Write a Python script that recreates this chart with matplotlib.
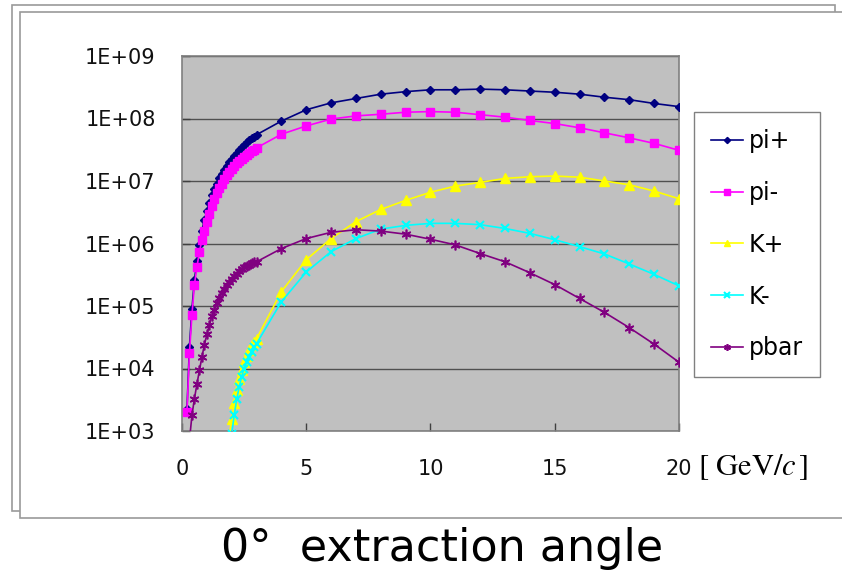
import math
import matplotlib
matplotlib.use("Agg")
import matplotlib.pyplot as plt
from matplotlib.patches import Rectangle
from matplotlib.ticker import FixedLocator, FuncFormatter

# ---------------- data ----------------
p_coarse = [4, 5, 6, 7, 8, 9, 10, 11, 12, 13, 14, 15, 16, 17, 18, 19, 20]

p_pi = [0.2, 0.3, 0.4, 0.5, 0.6, 0.7, 0.8, 0.9, 1.0, 1.1, 1.2, 1.3, 1.4, 1.5,
        1.6, 1.7, 1.8, 1.9, 2.0, 2.1, 2.2, 2.3, 2.4, 2.5, 2.6, 2.7, 2.8, 2.9, 3.0]
pip_fine = [2.24e3, 2.24e4, 8.9e4, 2.6e5, 5.2e5, 9.3e5, 1.6e6, 2.4e6, 3.3e6, 4.5e6,
            5.9e6, 7.4e6, 9.1e6, 1.1e7, 1.29e7, 1.51e7, 1.74e7, 2.0e7, 2.24e7, 2.51e7,
            2.82e7, 3.09e7, 3.47e7, 3.8e7, 4.17e7, 4.47e7, 4.79e7, 5.13e7, 5.5e7]
pip_coarse = [9.1e7, 1.38e8, 1.78e8, 2.09e8, 2.45e8, 2.69e8, 2.88e8, 2.88e8, 2.95e8,
              2.88e8, 2.75e8, 2.63e8, 2.45e8, 2.19e8, 2.0e8, 1.74e8, 1.55e8]
pim_fine = [2.0e3, 1.78e4, 7.2e4, 2.19e5, 4.17e5, 7.4e5, 1.12e6, 1.58e6, 2.24e6, 3.0e6,
            4.0e6, 5.1e6, 6.5e6, 7.8e6, 9.1e6, 1.07e7, 1.23e7, 1.38e7, 1.55e7, 1.74e7,
            1.91e7, 2.09e7, 2.29e7, 2.45e7, 2.63e7, 2.82e7, 3.02e7, 3.16e7, 3.39e7]
pim_coarse = [5.6e7, 7.6e7, 9.8e7, 1.10e8, 1.17e8, 1.26e8, 1.29e8, 1.26e8, 1.15e8,
              1.05e8, 9.3e7, 8.3e7, 7.1e7, 5.9e7, 4.9e7, 4.0e7, 3.1e7]

p_kp = [1.9, 2.0, 2.1, 2.2, 2.3, 2.4, 2.5, 2.6, 2.7, 2.8, 2.9, 3.0]
kp_fine = [7.9e2, 1.58e3, 2.8e3, 4.5e3, 6.8e3, 9.5e3, 1.26e4, 1.58e4, 1.95e4, 2.34e4,
           2.69e4, 3.0e4]
kp_coarse = [1.7e5, 5.5e5, 1.2e6, 2.24e6, 3.5e6, 4.9e6, 6.6e6, 8.3e6, 9.5e6, 1.1e7,
             1.17e7, 1.2e7, 1.15e7, 1.0e7, 8.7e6, 6.9e6, 5.2e6]

p_km = [2.0, 2.1, 2.2, 2.3, 2.4, 2.5, 2.6, 2.7, 2.8, 2.9, 3.0]
km_fine = [8.9e2, 1.78e3, 3.2e3, 5.0e3, 7.4e3, 1.0e4, 1.26e4, 1.55e4, 1.86e4, 2.19e4,
           2.5e4]
km_coarse = [1.17e5, 3.5e5, 7.4e5, 1.2e6, 1.7e6, 1.95e6, 2.1e6, 2.1e6, 2.0e6, 1.74e6,
             1.45e6, 1.15e6, 8.9e5, 6.8e5, 4.7e5, 3.2e5, 2.1e5]

p_pbar = [0.3, 0.4, 0.5, 0.6, 0.7, 0.8, 0.9, 1.0, 1.1, 1.2, 1.3, 1.4, 1.5, 1.6,
          1.7, 1.8, 1.9, 2.0, 2.1, 2.2, 2.3, 2.4, 2.5, 2.6, 2.7, 2.8, 2.9, 3.0]
pbar_fine = [7.1e2, 1.78e3, 3.3e3, 5.6e3, 9.3e3, 1.51e4, 2.4e4, 3.5e4, 5.0e4, 6.8e4,
             8.7e4, 1.1e5, 1.35e5, 1.62e5, 1.86e5, 2.14e5, 2.4e5, 2.7e5, 3.0e5, 3.3e5,
             3.6e5, 3.9e5, 4.2e5, 4.4e5, 4.6e5, 4.8e5, 5.0e5, 5.1e5]
pbar_coarse = [8.3e5, 1.2e6, 1.51e6, 1.66e6, 1.58e6, 1.41e6, 1.17e6, 9.5e5, 6.9e5,
               5.1e5, 3.4e5, 2.2e5, 1.32e5, 7.9e4, 4.5e4, 2.45e4, 1.26e4]

labels = ["pi+", "pi-", "K+", "K-", "pbar"]
x_ticks = [0, 5, 10, 15, 20]
y_ticks = [1e3, 1e4, 1e5, 1e6, 1e7, 1e8, 1e9]
title_text = "0°  extraction angle"
unit_text = r"$[\ \mathrm{GeV}/c\,]$"

# ---------------- figure ----------------
W, H = 842, 576
fig = plt.figure(figsize=(W / 100, H / 100), dpi=100)
fig.patch.set_facecolor("white")


def px_rect(x0, y0, x1, y1, **kw):
    r = Rectangle((x0 / W, 1 - y1 / H), (x1 - x0) / W, (y1 - y0) / H,
                  transform=fig.transFigure, **kw)
    fig.patches.append(r)


px_rect(12, 5, 835, 511, facecolor="white", edgecolor="#9a9a9a", linewidth=1.2, zorder=0)
px_rect(20, 12, 845, 518, facecolor="white", edgecolor="#9a9a9a", linewidth=1.2, zorder=1)

ax = fig.add_axes([182 / W, 1 - 431 / H, (679 - 182) / W, (431 - 56) / H])
ax.set_facecolor("#c0c0c0")
ax.set_zorder(2)

series = [
    (p_pi + p_coarse, pip_fine + pip_coarse, "#000080", "D", 4.5, 1.0),
    (p_pi + p_coarse, pim_fine + pim_coarse, "#ff00ff", "s", 6.0, 1.0),
    (p_kp + p_coarse, kp_fine + kp_coarse, "#ffff00", "^", 6.5, 1.0),
    (p_km + p_coarse, km_fine + km_coarse, "#00ffff", "x", 6.0, 1.5),
    (p_pbar + p_coarse, pbar_fine + pbar_coarse, "#800080", (6, 2, 0), 7.0, 1.2),
]
for (xs, ys, c, m, ms, mew), lab in zip(series, labels):
    ax.plot(xs, ys, color=c, marker=m, markersize=ms, markeredgewidth=mew,
            markeredgecolor=c, markerfacecolor=c, linewidth=1.2, label=lab, zorder=3)

ax.set_yscale("log")
ax.set_xlim(0, 20)
ax.set_ylim(1e3, 1e9)
ax.yaxis.set_major_locator(FixedLocator(y_ticks))
ax.yaxis.set_minor_locator(FixedLocator([]))
ax.yaxis.set_major_formatter(FuncFormatter(lambda v, pos: "1E+%02d" % round(math.log10(v))))
ax.xaxis.set_major_locator(FixedLocator(x_ticks))
ax.grid(axis="y", color="#505050", linewidth=1.0, zorder=1)
ax.set_axisbelow(True)
for s in ax.spines.values():
    s.set_color("#808080")
    s.set_linewidth(1.2)
ax.tick_params(axis="both", direction="in", length=6, width=1, color="#404040",
               labelsize=15, labelcolor="#111111")
ax.tick_params(axis="y", pad=19)
ax.tick_params(axis="x", pad=20)

leg = ax.legend(loc="upper left", bbox_to_anchor=(694 / W, 1 - 112 / H),
                bbox_transform=fig.transFigure, fontsize=17, frameon=True,
                fancybox=False, edgecolor="#808080", framealpha=1,
                handlelength=1.35, handletextpad=0.25, labelspacing=1.18,
                borderpad=0.72, borderaxespad=0, markerscale=0.7)
leg.get_frame().set_linewidth(1.0)
leg.set_clip_on(False)

fig.text(698 / W, 1 - 467 / H, unit_text, fontsize=22, ha="left", va="center",
         math_fontfamily="stix")
fig.text(442 / W, 1 - 548 / H, title_text, fontsize=32, ha="center", va="center")

fig.savefig("out.png", dpi=100)
